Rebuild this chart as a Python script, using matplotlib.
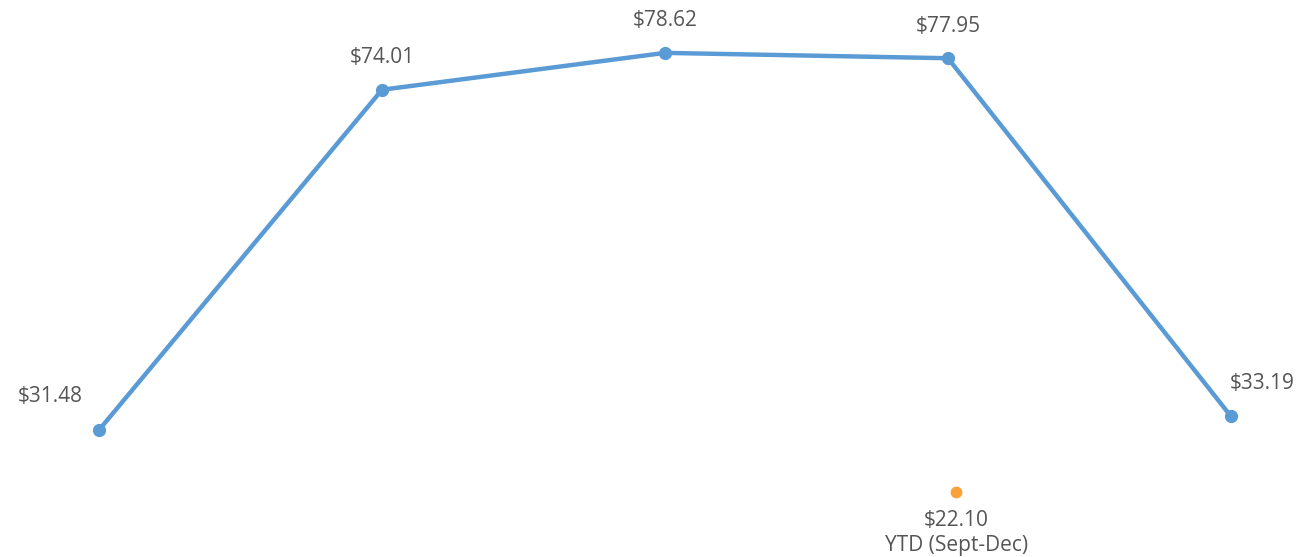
import matplotlib
matplotlib.use("Agg")
import matplotlib.pyplot as plt

categories = ["P1", "P2", "P3", "P4", "P5"]
values = [31.48, 74.01, 78.62, 77.95, 33.19]
labels = ["$31.48", "$74.01", "$78.62", "$77.95", "$33.19"]
ytd_index = 3.03
ytd_value = 22.10
ytd_labels = ["$22.10", "YTD (Sept-Dec)"]

plt.rcParams['font.family'] = ['Open Sans', 'DejaVu Sans']
TXT = '#555555'

fig = plt.figure(figsize=(12.98, 5.57), dpi=100)
ax = fig.add_axes([0, 0, 1, 1])
ax.set_xlim(-0.35, 4.237)
ax.set_ylim(15.6, 85.23)
ax.axis('off')

x = list(range(len(values)))
ax.plot(x, values, color='#5B9BD5', lw=3.2, marker='o', ms=8.5,
        solid_capstyle='round', zorder=3)

offsets = [(-49, 33), (0, 32), (0, 32), (0, 32), (31, 33)]
for xi, v, lab, off in zip(x, values, labels, offsets):
    ax.annotate(lab, (xi, v), xytext=off, textcoords='offset pixels',
                ha='center', va='center', fontsize=15, color=TXT)

ax2 = fig.add_axes([0, 0, 1, 1], sharex=ax)
ax2.set_ylim(13.975, 83.6)
ax2.axis('off')
ax2.plot([ytd_index], [ytd_value], 'o', color='#F9A23A', ms=7.5, zorder=3)
ax2.annotate(ytd_labels[0], (ytd_index, ytd_value), xytext=(0, -29),
             textcoords='offset pixels', ha='center', va='center',
             fontsize=15, color=TXT)
ax2.annotate(ytd_labels[1], (ytd_index, ytd_value), xytext=(0, -54),
             textcoords='offset pixels', ha='center', va='center',
             fontsize=15, color=TXT)

fig.savefig('out.png', dpi=100)
